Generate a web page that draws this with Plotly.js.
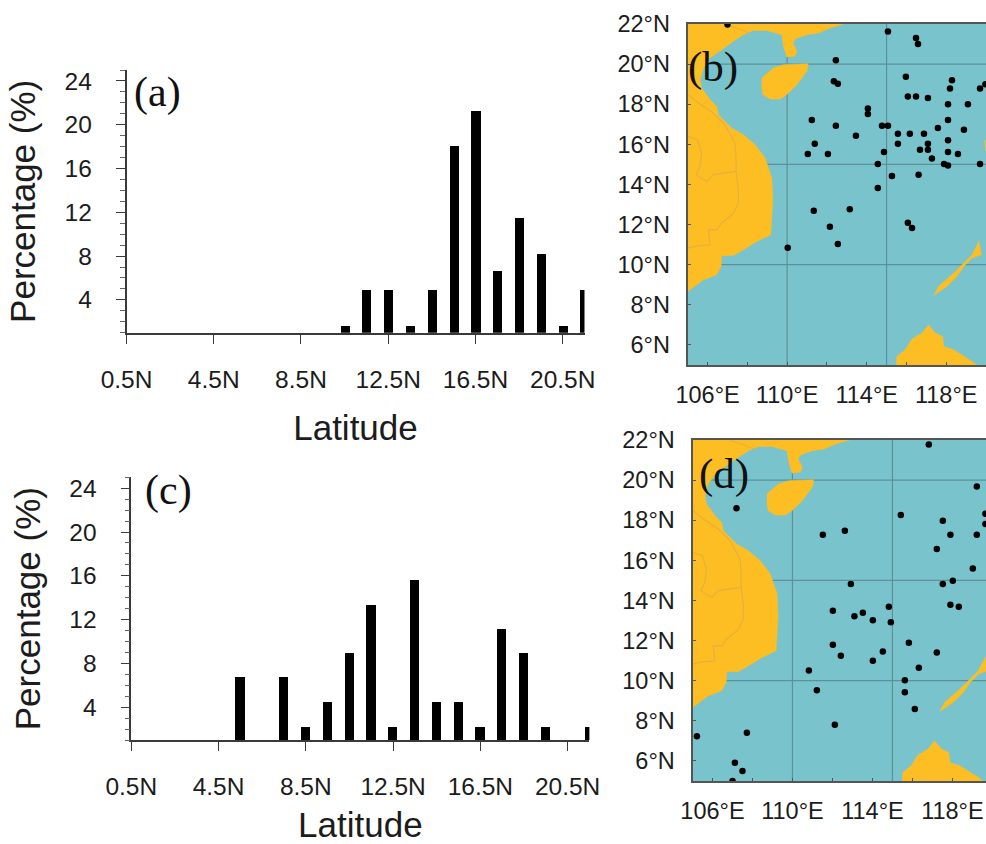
<!DOCTYPE html>
<html><head><meta charset="utf-8">
<script src="https://cdn.plot.ly/plotly-3.0.1.min.js"></script>
<style>html,body{margin:0;padding:0;background:#fff}#c{width:986px;height:844px}</style>
</head><body><div id="c"></div>
<script>
// ---------- data ----------
const latCenters = [10.5,11.5,12.5,13.5,14.5,15.5,16.5,17.5,18.5,19.5,20.5,21.5];
const pctA = [1.6,4.9,4.9,1.6,4.9,18.1,21.3,6.6,11.5,8.2,1.6,4.9];
const latCentersC = [5.5,7.5,8.5,9.5,10.5,11.5,12.5,13.5,14.5,15.5,16.5,17.5,18.5,19.5,21.5];
const pctC = [6.7,6.7,2.2,4.45,8.9,13.3,2.2,15.55,4.45,4.45,2.2,11.1,8.9,2.2,2.2];
const latTickVals = [0.5,4.5,8.5,12.5,16.5,20.5];
const latTickText = ['0.5N','4.5N','8.5N','12.5N','16.5N','20.5N'];
const pctTicks = [4,8,12,16,20,24];
const mapLonTicks = [106,108,110,112,114,116,118];
const mapLonText = ['106°E','','110°E','','114°E','','118°E'];
const mapLatTicks = [6,8,10,12,14,16,18,20,22];
const mapLatText = ['6°N','8°N','10°N','12°N','14°N','16°N','18°N','20°N','22°N'];
const gridLons = [110,115];
const gridLats = [10,15,20];

const dotsBLon = [107.0,115.07,116.48,116.58,112.45,112.35,112.55,115.97,118.29,118.19,119.7,119.97,116.07,116.48,117.08,118.09,119.09,114.06,114.06,111.24,118.09,112.45,114.77,115.07,117.58,118.89,113.46,115.57,116.17,116.88,118.09,111.39,115.57,117.08,116.68,117.08,111.04,112.05,114.87,118.09,118.59,117.28,114.56,117.89,118.09,119.7,115.27,116.61,114.56,111.34,113.15,112.15,116.07,116.28,112.55,110.03];
const dotsBLat = [21.97,21.62,21.3,21.0,20.19,19.14,19.02,19.37,19.2,18.79,18.79,19.0,18.38,18.38,18.31,18.0,18.0,17.79,17.51,17.21,17.21,16.93,16.93,16.93,16.81,16.73,16.43,16.53,16.53,16.53,16.21,16.03,16.03,16.03,15.73,15.73,15.52,15.52,15.62,15.62,15.52,15.3,15.02,15.02,14.95,15.02,14.42,14.49,13.82,12.69,12.76,11.89,12.09,11.83,11.03,10.84];
const dotsDLon = [116.82,119.22,107.2,115.42,119.65,119.65,117.52,112.62,111.52,117.9,119.22,117.22,119.02,118.02,117.52,112.92,117.9,118.32,114.82,112.02,113.52,113.1,114.02,114.92,112.02,115.82,114.52,117.22,112.42,114.02,116.32,110.82,115.62,111.22,115.62,116.12,112.12,107.72,105.22,107.12,107.5,107.0];
const dotsDLat = [21.78,19.68,18.6,18.26,18.32,17.81,17.97,17.48,17.28,17.28,17.28,16.56,15.6,14.98,14.82,14.82,13.79,13.69,13.69,13.49,13.39,13.21,13.02,12.91,11.79,11.89,11.46,11.4,11.25,11.0,10.65,10.51,10.02,9.52,9.42,8.59,7.81,7.41,7.23,5.91,5.5,5.0];

const mainlandLon = [105,105,112.84,112.16,111.58,110.99,110.4,110.29,110.49,110.4,109.98,109.82,109.73,108.98,108.31,107.8,107.3,106.71,106.12,105.79,105.62,105.7,106.12,106.46,106.54,107.21,107.8,108.39,108.89,109.23,109.28,109.18,108.47,107.8,107.3,106.71,106.68,106.46,105.79,105];
const mainlandLat = [8.67,22,22,21.8,21.55,21.47,21.25,21.05,20.64,20.39,20.35,20.89,21.47,21.67,21.68,21.47,21.14,20.72,20.3,19.81,19.22,18.81,18.23,17.89,17.48,16.81,16.48,15.98,15.32,14.32,13.24,11.49,11.16,10.74,10.46,10.45,9.91,9.5,9.25,8.67];
const hainanLon = [108.72,109.31,109.82,111.06,110.99,110.49,109.98,109.65,109.14,108.78,108.72];
const hainanLat = [19.31,19.81,19.97,20.02,19.64,18.97,18.48,18.26,18.26,18.48,18.89];
const palawanLon = [119.63,119.77,119.3,118.88,118.54,118.04,117.37,117.62,118.37,118.88,119.3,119.51];
const palawanLat = [11.21,10.5,10.33,9.91,9.41,8.92,8.47,8.92,9.58,10.08,10.5,10.91];
const borneoLon = [115.49,115.52,115.94,116.28,116.78,117.11,117.45,117.82,117.87,118.37,119.3,119.55];
const borneoLat = [5.0,5.42,5.76,6.29,6.59,7.0,6.59,6.42,5.92,5.76,5.18,5.0];
const luzonLon = [119.93,120.3,120.3,119.96];
const luzonLat = [16.2,16.2,15.6,15.7];

const borderALon = [105.03,105.54,106.29,106.88,107.38,107.43,107.43,107.55,107.55,107.3,106.71,106.46,106.04,106.12,105.49,105];
const borderALat = [18.48,18.06,17.56,16.98,16.06,15.4,14.65,13.74,13.07,12.57,12.07,11.74,11.74,10.99,10.94,10.83];
const borderBLon = [105,105.49,105.7,105.62,105.42,105.96,106.29,107.43];
const borderBLat = [16.4,16.23,15.57,14.9,14.49,14.15,14.49,14.65];
const borderCLon = [106.88,107.47,108.05];
const borderCLat = [21.97,21.8,21.55];

// ---------- style ----------
const W = 986, H = 844;
const LAND = '#FDBE24', OCEAN = '#79C3CD', GRID = '#5F9098', BORDER = '#E6B03C', AXIS = '#3a3a3a', INK = '#1c1c1c';
const SANS = 'Liberation Sans, Arial, sans-serif', SERIF = 'Liberation Serif, Times New Roman, serif';
const dx = (a, b) => [a / W, b / W];
const dy = (top, bottom) => [1 - bottom / H, 1 - top / H];

function barAxes(n, xd, yd) {
  const xa = {domain: dx(...xd), range: [0.5, 21.5], anchor: 'y' + n, tickmode: 'array', tickvals: latTickVals, ticktext: latTickText,
    ticks: 'outside', ticklen: 9, tickwidth: 1.4, tickcolor: AXIS, showline: true, linecolor: AXIS, linewidth: 1.6, showgrid: false, zeroline: false,
    tickfont: {family: SANS, size: 24.5, color: INK}, ticklabelstandoff: 15,
    title: {text: 'Latitude', font: {family: SANS, size: 35, color: INK}, standoff: 24}};
  const ya = {domain: dy(...yd), range: [1, 25], anchor: 'x' + n, tickmode: 'array', tickvals: pctTicks,
    ticks: 'outside', ticklen: 9, tickwidth: 1.4, tickcolor: AXIS, showline: true, linecolor: AXIS, linewidth: 1.6, showgrid: false, zeroline: false,
    minor: {dtick: 1, tick0: 0, ticks: 'outside', ticklen: 5, tickwidth: 1.1, tickcolor: '#666', showgrid: false},
    tickfont: {family: SANS, size: 24.5, color: INK}, ticklabelstandoff: 19,
    title: {text: 'Percentage (%)', font: {family: SANS, size: 35, color: INK}, standoff: 18}};
  return [xa, ya];
}
function mapAxes(n, xd, yd, xr) {
  const xa = {domain: dx(...xd), range: xr, anchor: 'y' + n, tickmode: 'array', tickvals: mapLonTicks, ticktext: mapLonText,
    ticks: 'inside', ticklen: 3, tickwidth: 1, tickcolor: '#555', showline: true, mirror: true, linecolor: '#555', linewidth: 2, showgrid: false, zeroline: false,
    tickfont: {family: SANS, size: 23.5, color: INK}, ticklabelstandoff: 8};
  const ya = {domain: dy(...yd), range: [5, 22], anchor: 'x' + n, tickmode: 'array', tickvals: mapLatTicks, ticktext: mapLatText,
    ticks: 'inside', ticklen: 3, tickwidth: 1, tickcolor: '#555', showline: true, linecolor: '#555', linewidth: 2, showgrid: false, zeroline: false,
    tickfont: {family: SANS, size: 23.5, color: INK}, ticklabelstandoff: 11};
  return [xa, ya];
}
const [x1, y1] = barAxes(1, [126.5, 584.5], [70, 332.7]);
const [x3, y3] = barAxes(3, [131.3, 589.4], [477.3, 740]);
const [x2, y2] = mapAxes(2, [687.7, 986], [24, 365], [105, 120]);
const [x4, y4] = mapAxes(4, [692.5, 986], [440, 781], [105, 119.68]);

const traces = [];
function addBars(xs, ys, n) {
  traces.push({type: 'bar', x: xs, y: ys, width: 0.42, marker: {color: '#000', line: {width: 0}}, xaxis: 'x' + n, yaxis: 'y' + n, showlegend: false, hoverinfo: 'x+y'});
}
function addMap(n, dLon, dLat) {
  const xa = 'x' + n, ya = 'y' + n;
  [[mainlandLon, mainlandLat], [hainanLon, hainanLat], [palawanLon, palawanLat], [borneoLon, borneoLat], [luzonLon, luzonLat]].forEach(p => {
    traces.push({type: 'scatter', x: p[0], y: p[1], mode: 'lines', fill: 'toself', fillcolor: LAND, line: {color: LAND, width: 0.5}, xaxis: xa, yaxis: ya, showlegend: false, hoverinfo: 'skip'});
  });
  [[borderALon, borderALat], [borderBLon, borderBLat], [borderCLon, borderCLat]].forEach(p => {
    traces.push({type: 'scatter', x: p[0], y: p[1], mode: 'lines', line: {color: BORDER, width: 1.2}, xaxis: xa, yaxis: ya, showlegend: false, hoverinfo: 'skip'});
  });
  traces.push({type: 'scatter', x: dLon, y: dLat, mode: 'markers', marker: {color: '#000', size: 6.5}, xaxis: xa, yaxis: ya, showlegend: false, cliponaxis: true});
}
addBars(latCenters, pctA, 1);
addMap(2, dotsBLon, dotsBLat);
addBars(latCentersC, pctC, 3);
addMap(4, dotsDLon, dotsDLat);

const shapes = [];
[2, 4].forEach(n => {
  shapes.push({type: 'rect', xref: 'x' + n + ' domain', yref: 'y' + n + ' domain', x0: 0, x1: 1, y0: 0, y1: 1, layer: 'below', fillcolor: OCEAN, line: {width: 0}});
  gridLons.forEach(v => shapes.push({type: 'line', xref: 'x' + n, yref: 'y' + n + ' domain', x0: v, x1: v, y0: 0, y1: 1, layer: 'below', line: {color: GRID, width: 1.2}}));
  gridLats.forEach(v => shapes.push({type: 'line', xref: 'x' + n + ' domain', yref: 'y' + n, x0: 0, x1: 1, y0: v, y1: v, layer: 'below', line: {color: GRID, width: 1.2}}));
});

function tag(text, px, py, size) {
  return {text, xref: 'paper', yref: 'paper', x: px / W, y: 1 - py / H, xanchor: 'center', yanchor: 'middle', showarrow: false, font: {family: SERIF, size, color: '#111'}};
}
const annotations = [tag('(a)', 157, 92, 42), tag('(b)', 713, 67, 43), tag('(c)', 168, 490, 42), tag('(d)', 724, 474, 43)];

Plotly.newPlot('c', traces, {
  width: W, height: H, margin: {l: 0, r: 0, t: 0, b: 0}, paper_bgcolor: '#fff', plot_bgcolor: 'rgba(0,0,0,0)', showlegend: false, bargap: 0,
  xaxis: x1, yaxis: y1, xaxis2: x2, yaxis2: y2, xaxis3: x3, yaxis3: y3, xaxis4: x4, yaxis4: y4, shapes, annotations
}, {displayModeBar: false, responsive: false});
</script></body></html>
